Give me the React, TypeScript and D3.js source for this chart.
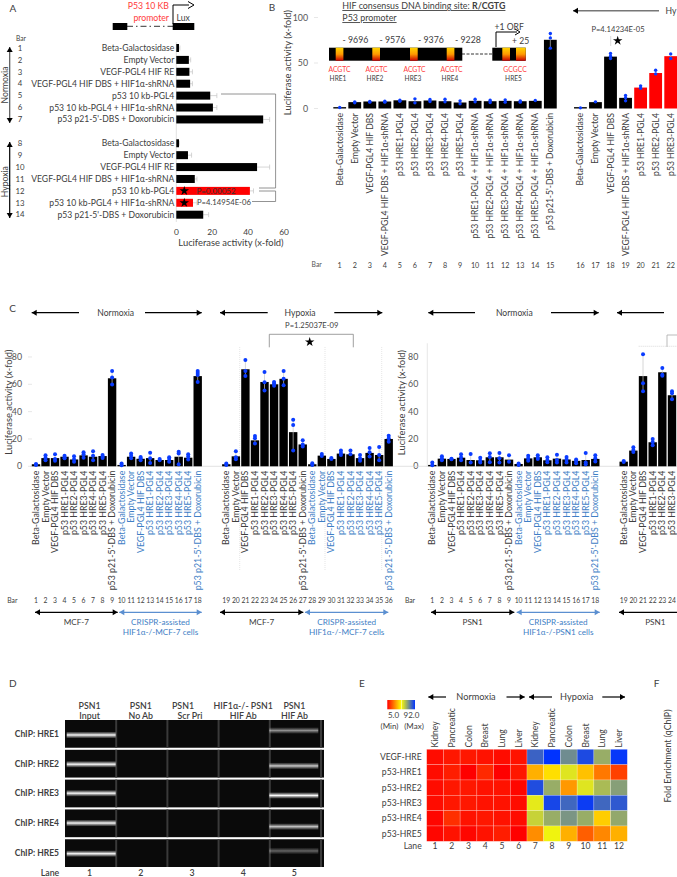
import * as d3 from "d3"

// ---- panel A
const aBars = [1, 2, 3, 4, 5, 6, 7, "gap", 8, 9, 10, 11, 12, 13, 14]
const aLabels = ["Beta-Galactosidase", "Empty Vector", "VEGF-PGL4 HIF RE", "VEGF-PGL4 HIF DBS + HIF1α-shRNA", "p53 10 kb-PGL4", "p53 10 kb-PGL4 + HIF1α-shRNA", "p53 p21-5'-DBS + Doxorubicin"]
const aValues = [1.5, 7, 7.3, 7.7, 18.9, 20.4, 48.4, 1.5, 6.5, 45, 10.3, 41, 9.3, 15]
const aErrors = [2, 8, 9, 9, 22.6, 22.6, 52, 1.7, 8.5, 52, 11.5, 43, 11.5, 18]
const aRedBars = [12, 13]

// ---- panel B
const bBars = [...d3.range(1, 16), "gap", ...d3.range(16, 23)]
const bLabels = ["Beta-Galactosidase", "Empty Vector", "VEGF-PGL4 HIF DBS", "VEGF-PGL4 HIF DBS + HIF1α-shRNA", "p53 HRE1-PGL4", "p53 HRE2-PGL4", "p53 HRE3-PGL4", "p53 HRE4-PGL4", "p53 HRE5-PGL4", "p53 HRE1-PGL4 + HIF1α-shRNA", "p53 HRE2-PGL4 + HIF1α-shRNA", "p53 HRE3-PGL4 + HIF1α-shRNA", "p53 HRE4-PGL4 + HIF1α-shRNA", "p53 HRE5-PGL4 + HIF1α-shRNA", "p53 p21-5'-DBS + Doxorubicin", "Beta-Galactosidase", "Empty Vector", "VEGF-PGL4 HIF DBS", "VEGF-PGL4 HIF DBS + HIF1α-shRNA", "p53 HRE1-PGL4", "p53 HRE2-PGL4", "p53 HRE3-PGL4"]
const bValues = [1.5, 7, 7.7, 7.7, 9, 8, 8.8, 8, 6.6, 8.4, 8, 8.4, 8, 8.4, 75.5, 1.5, 7, 57, 11.7, 23, 39, 57.5]
const bPoints = [[1.1], [7.3, 6.2], [7.7, 7], [8, 7], [9.2, 8], [10.6, 6.2], [9.9, 7.7], [10.3, 7.3], [8.4, 5.1], [10.3, 7.3], [9.2, 6.6], [9.5, 7], [8.4, 7], [8.8], [82.4, 77.6, 66.3], [0.7], [7.3], [60.4, 57.5, 54.9], [14.3, 11.7, 8.4], [24.9, 22.3], [42, 38], [60, 55]]
const bRedBars = [20, 21, 22]
const hreNames = ["HRE1", "HRE2", "HRE3", "HRE4", "HRE5"]
const hreSites = ["ACGTC", "ACGTC", "ACGTC", "ACGTC", "GCGCC"]
const hrePositions = ["- 9696", "- 9576", "- 9376", "- 9228"]

// ---- panel C
const cLabels = ["Beta-Galactosidase", "Empty Vector", "VEGF-PGL4 HIF DBS", "p53 HRE1-PGL4", "p53 HRE2-PGL4", "p53 HRE3-PGL4", "p53 HRE4-PGL4", "p53 HRE5-PGL4", "p53 p21-5'-DBS + Doxorubicin"]
const mcfNormValues = [1.5, 6, 6, 7, 5, 8, 7, 7.5, 64.4, 1, 7, 5.5, 6, 4.6, 4.6, 7, 6.3, 66]
const mcfNormPoints = [[1.7, 1], [8, 6.3, 4.4], [8.8, 5.4, 4.1], [7.8, 6.3, 5.9], [7.3, 5.1, 3.4], [10.2, 8.8, 6.3], [11, 7.8, 4.4], [8.3, 7.1, 6.1], [69.8, 64.9, 59.8], [2, 0.7], [9.3, 7.8, 5.9], [6.8, 5.9, 4.4], [10, 5.9, 2.4], [5.4, 4.4], [6.6, 5.4, 3.4], [10.7, 9.3, 1.5], [8.8, 7.1, 4.9], [69.8, 68.3, 66.8, 61.7]]
const mcfHypoValues = [1.5, 7.3, 71, 19, 61.7, 60, 64, 25, 16, 1.5, 7.8, 5.4, 9.3, 8.8, 6, 9.8, 8.3, 20]
const mcfHypoPoints = [[2, 1], [11, 6.6, 5.1], [77.8, 69.8, 66.1], [22.2, 20.5, 16.6], [69, 61.5, 55.4], [61.7, 60.5, 59], [69.8, 64, 59.3], [34, 30.2, 11.5], [19, 16, 14.4], [2.2, 1], [9, 7.6], [6.1, 5.4], [11.5, 9.8, 8.3], [11.5, 8.8], [8.3, 5.9, 4.1], [13.4, 10.2, 7.1], [14.1, 8.3, 4.4], [22.4, 20.5, 18]]
const psnNormValues = [1, 5.6, 5.4, 6.3, 4.6, 4.4, 6.6, 6.6, 4.9, 1.7, 5.8, 6.6, 4.4, 5.6, 5, 4, 4.6, 5.4]
const psnNormPoints = [[2.7, 0.7], [7.3, 5.9, 4.4], [5.6, 5.1], [8.8, 6.6, 4.4], [9, 2.7], [6.3, 4.1, 2.7], [9.5, 6.8, 2.9], [9.8, 5.9, 2.7], [8, 3.4], [2, 1], [7.8, 5.9, 4.1], [8, 6.3, 5.4], [6.6, 4.6, 2.9], [8.5, 4.6, 2.7], [6.8, 4.9, 2.7], [4.9, 3.9, 2.2], [9.8, 2.7, 1.5], [8, 5.9, 3.6]]
const psnHypoValues = [3.4, 11.5, 66, 17.6, 68.8, 52]
const psnHypoPoints = [[3.9, 3.2], [14, 12, 10.5], [82, 60.7, 55], [20, 17.8, 15.4], [72, 67, 66.3], [55, 53.4, 49]]

// ---- panel D
const gelLanes = ["1", "2", "3", "4", "5"]
const gelRows = ["ChIP: HRE1", "ChIP: HRE2", "ChIP: HRE3", "ChIP: HRE4", "ChIP: HRE5"]
const gelHeaders = [["PSN1", "Input"], ["PSN1", "No Ab"], ["PSN1", "Scr Pri"], ["HIF1α-/- PSN1", "HIF Ab"], ["PSN1", "HIF Ab"]]
const inputBandMigration = [0.54, 0.52, 0.49, 0.49, 0.52]
const hifBandMigration = [0.38, 0.58, 0.57, 0.62, 0.42]
const hifBandIntensity = [0.55, 0.8, 1, 0.78, 0.38]

// ---- panel E
const tissues = ["Kidney", "Pancreatic", "Colon", "Breast", "Lung", "Liver"]
const heatRows = ["VEGF-HRE", "p53-HRE1", "p53-HRE2", "p53-HRE3", "p53-HRE4", "p53-HRE5"]
const heatValues = [
    [7, 9, 9, 8, 7, 8, 82, 92, 73, 87, 66, 91],
    [7, 10, 5, 12, 5, 9, 35, 43, 54, 38, 25.5, 16],
    [7, 9, 9, 8, 8, 6, 86.5, 66, 31, 54, 63, 69],
    [7, 9, 9, 8, 8, 7, 53, 88, 81, 90, 81, 84],
    [6, 13, 8, 9, 8, 7, 58, 66, 71, 66, 40, 67],
    [6, 8, 6, 8, 10, 5, 29, 51, 35, 21, 28, 35],
]

const INK = "#404040"
const BLUE_TEXT = "#3f7fc6"
const BLUE_DOT = "#0a3cff"
const RED = "#ff0000"

const star = d3.symbol().type(d3.symbolStar)

function T({ x, y, children, size = 8.4, fill = INK, anchor = "middle", weight = 400, rotate = 0, decoration }: any) {
    return (
        <text
            transform={`translate(${x},${y}) rotate(${rotate})`}
            dy="0.35em"
            fontSize={size}
            fill={fill}
            textAnchor={anchor}
            fontWeight={weight}
            textDecoration={decoration}
        >
            {children}
        </text>
    )
}

// straight arrow with a filled head at one or both ends
function Arrow({ x1, y1, x2, y2, color = "#000", head = "#000", both = false, sw = 1.2, size = 5 }: any) {
    const a = Math.atan2(y2 - y1, x2 - x1)
    const tri = (x: number, y: number, t: number) => {
        const p = [
            [x, y],
            [x - size * Math.cos(t) + (size * 0.6) * Math.sin(t), y - size * Math.sin(t) - (size * 0.6) * Math.cos(t)],
            [x - size * Math.cos(t) - (size * 0.6) * Math.sin(t), y - size * Math.sin(t) + (size * 0.6) * Math.cos(t)],
        ]
        return <polygon points={p.map((d) => d.join(",")).join(" ")} fill={head} />
    }
    return (
        <g>
            <line x1={x1} y1={y1} x2={x2} y2={y2} stroke={color} strokeWidth={sw} />
            {tri(x2, y2, a)}
            {both && tri(x1, y1, a + Math.PI)}
        </g>
    )
}

function PanelA() {
    const x = d3.scaleLinear().domain([0, 60]).range([176.3, 284])
    const y = d3.scalePoint<any>().domain(aBars).range([48, 214.7])
    const nums = aBars.filter((d) => d !== "gap") as number[]
    return (
        <g>
            <T x={13} y={8} size={10}>A</T>
            <T x={169} y={6} fill="#ff3b3b" anchor="end" size={8.7}>P53 10 KB</T>
            <T x={169} y={18} fill="#ff3b3b" anchor="end" size={8.7}>promoter</T>
            <T x={176.5} y={18} size={8.6} anchor="start">Lux</T>
            <rect x={112.7} y={23} width={14.6} height={7} fill="#000" />
            <rect x={172.7} y={23} width={21.6} height={7} fill="#000" />
            <line x1={127} y1={26.3} x2={173} y2={26.3} stroke="#000" strokeWidth={0.8} strokeDasharray="6 3 1.5 3" />
            <path d="M173,24V5H189" fill="none" stroke="#000" strokeWidth={1} />
            <path d="M188,1.5L194,5L188,8.5" fill="none" stroke="#000" strokeWidth={1} />
            <T x={21} y={39} size={6.6}>Bar</T>
            <line x1={x(0)} y1={42} x2={x(0)} y2={222} stroke="#d9d9d9" strokeWidth={0.8} />
            {nums.map((n, i) => {
                const cy = y(n)!
                const label = aLabels[i % 7]
                return (
                    <g key={n}>
                        <T x={20} y={cy} size={7.8}>{n}</T>
                        <T x={174.3} y={cy} anchor="end" size={8.6}>{label}</T>
                        <line x1={x(aValues[i])} x2={x(aErrors[i])} y1={cy} y2={cy} stroke="#c4c4c4" strokeWidth={0.7} />
                        <line x1={x(aErrors[i])} x2={x(aErrors[i])} y1={cy - 2.5} y2={cy + 2.5} stroke="#c4c4c4" strokeWidth={0.7} />
                        <rect
                            x={x(0)}
                            y={cy - 4}
                            width={x(aValues[i]) - x(0)}
                            height={8}
                            fill={aRedBars.includes(n) ? RED : "#000"}
                        />
                    </g>
                )
            })}
            {x.ticks(3).map((t) => (
                <T key={t} x={x(t)} y={232} size={8.4}>{t}</T>
            ))}
            <T x={231} y={243} size={9.4}>Luciferase activity (x-fold)</T>
            <T x={4.5} y={85} rotate={-90} size={8.6}>Normoxia</T>
            <T x={4.5} y={181.7} rotate={-90} size={8.6}>Hypoxia</T>
            <Arrow x1={9.7} y1={47} x2={9.7} y2={123} both color="#555" />
            <Arrow x1={9.7} y1={142} x2={9.7} y2={218} both />
            <path transform={`translate(184.3,${y(12)})`} d={star.size(28)()!} fill="#000" />
            <path transform={`translate(184.3,${y(13)})`} d={star.size(28)()!} fill="#000" />
            <T x={216} y={y(12)} size={8} fill="#333">P=0.00052</T>
            <T x={197} y={y(13)} size={7.7} anchor="start">P=4.14954E-06</T>
            {/* significance brackets running on to the right of the axis */}
            <path d="M221,94H275.6V188H259" fill="none" stroke="#777" strokeWidth={0.8} />
            <path d="M259,191H275.6V201.5H252" fill="none" stroke="#777" strokeWidth={0.8} />
        </g>
    )
}

function PanelB() {
    const x = d3.scalePoint<any>().domain(bBars).range([339.7, 670.7])
    const y = d3.scaleLinear().domain([0, 100]).range([108.5, 17.5])
    const nums = bBars.filter((d) => d !== "gap") as number[]
    const boxCentres = [339.5, 376.5, 414.5, 451.5, 515]
    return (
        <g>
            <T x={272} y={7} size={10}>B</T>
            <text x={342.3} y={6} dy="0.35em" fontSize={8.9} fill={INK} textDecoration="underline">
                HIF consensus DNA binding site: <tspan fontWeight={700}>R/CGTG</tspan>
            </text>
            <T x={342.3} y={18} size={8.9} anchor="start" decoration="underline">P53 promoter</T>
            <defs>
                <linearGradient id="hreGrad" x1="0" x2="0" y1="0" y2="1">
                    <stop offset="0" stopColor="#ffd400" />
                    <stop offset="0.5" stopColor="#ff9a00" />
                    <stop offset="1" stopColor="#c80000" />
                </linearGradient>
            </defs>
            <rect x={329} y={47.7} width={133.3} height={13} fill="#000" />
            <rect x={492.3} y={47.7} width={33.4} height={13} fill="#000" />
            <line x1={462} y1={54} x2={492} y2={54} stroke="#000" strokeWidth={0.8} strokeDasharray="3 1.5" />
            {[335.7, 372.3, 410, 446.7, 502.3, 516].map((bx, i) => (
                <rect key={i} x={bx} y={47.7} width={i === 5 ? 9.7 : 7.7} height={13} fill="url(#hreGrad)" />
            ))}
            {hreNames.map((n, i) => (
                <g key={n}>
                    <T x={boxCentres[i]} y={69.3} fill="#ff4040" size={6.8}>{hreSites[i]}</T>
                    <T x={boxCentres[i] - 1.5} y={79} size={6.6}>{n}</T>
                </g>
            ))}
            {hrePositions.map((p, i) => (
                <T key={p} x={[342.5, 379.5, 418, 455][i]} y={39.5} size={8.8} anchor="start">{p}</T>
            ))}
            <T x={494.5} y={26.7} size={8.6} anchor="start">+1 ORF</T>
            <path d="M496,47V32H517" fill="none" stroke="#000" strokeWidth={1} />
            <path d="M515,29L520,32L515,35" fill="none" stroke="#000" strokeWidth={1} />
            <T x={512} y={40.7} size={8.6} anchor="start">+ 25</T>

            <T x={287.7} y={62.5} rotate={-90} size={9.4}>Luciferase activity (x-fold)</T>
            {y.ticks(2).map((t) => (
                <g key={t}>
                    <T x={308} y={y(t)} anchor="end" size={8.8} fill="#555">{t}</T>
                    <line x1={314} x2={318} y1={y(t)} y2={y(t)} stroke="#ddd" strokeWidth={0.7} />
                </g>
            ))}
            <T x={316.7} y={265} size={6.8} fill="#555">Bar</T>
            {nums.map((n, i) => {
                const cx = x(n)!
                return (
                    <g key={n}>
                        <rect
                            x={cx - 6.4}
                            y={y(bValues[i])}
                            width={12.8}
                            height={y(0) - y(bValues[i])}
                            fill={bRedBars.includes(n) ? RED : "#000"}
                        />
                        <line x1={cx} x2={cx} y1={y(d3.max(bPoints[i])!)} y2={y(d3.min(bPoints[i])!)} stroke="#bbb" strokeWidth={0.7} />
                        {bPoints[i].map((p, j) => (
                            <circle key={j} cx={cx} cy={y(p)} r={1.7} fill={BLUE_DOT} />
                        ))}
                        <T x={cx} y={113} rotate={-90} anchor="end" size={8.6}>{bLabels[i]}</T>
                        <T x={cx} y={265} size={7.2}>{n}</T>
                    </g>
                )
            })}
            <Arrow x1={659} y1={10.7} x2={573} y2={10.7} color="#777" sw={1.5} />
            <T x={665.5} y={10.7} anchor="start" size={8.6}>Hy</T>
            <T x={618} y={29} size={7.6}>P=4.14234E-05</T>
            <line x1={610.7} x2={610.7} y1={36} y2={46} stroke="#ccc" strokeWidth={0.7} />
            <path transform="translate(617.7,40.7)" d={star.size(28)()!} fill="#000" />
        </g>
    )
}

function BarGroup({ first, values, points, x, y, labelTop, blueFrom }: any) {
    return (
        <g>
            {values.map((v: number, i: number) => {
                const n = first + i
                const cx = x(n)
                const label = cLabels[i % 9]
                return (
                    <g key={n}>
                        <rect x={cx - 4.2} y={y(v)} width={8.4} height={y(0) - y(v)} fill="#000" />
                        <line x1={cx} x2={cx} y1={y(d3.max(points[i] as number[])!)} y2={y(d3.min(points[i] as number[])!)} stroke="#c4c4c4" strokeWidth={0.7} />
                        {points[i].map((p: number, j: number) => (
                            <circle key={j} cx={cx} cy={y(p)} r={2} fill={BLUE_DOT} />
                        ))}
                        <T x={cx} y={labelTop} rotate={-90} anchor="end" size={8.8} fill={n >= blueFrom ? BLUE_TEXT : INK}>{label}</T>
                        <T x={cx} y={600.3} size={6.8}>{n}</T>
                    </g>
                )
            })}
        </g>
    )
}

function CaptionRow({ x1, x2, cell, split }: any) {
    return (
        <g>
            <Arrow x1={x1} y1={612.3} x2={x2} y2={612.3} both head={split ? "#5b8fd0" : "#000"} color={split ? "#5b8fd0" : "#000"} />
            {split ? (
                <g>
                    <T x={(x1 + x2) / 2} y={622.3} size={8.2} fill={BLUE_TEXT}>CRISPR-assisted</T>
                    <T x={(x1 + x2) / 2} y={632.3} size={8.2} fill={BLUE_TEXT}>{cell}</T>
                </g>
            ) : (
                <T x={(x1 + x2) / 2} y={622.3} size={8.2}>{cell}</T>
            )}
        </g>
    )
}

function PanelC() {
    const y = d3.scaleLinear().domain([0, 90]).range([466.3, 343.3])
    const x1 = d3.scaleLinear().domain([1, 18]).range([36, 197.7])
    const x2 = d3.scaleLinear().domain([19, 36]).range([226.3, 388.7])
    const x3 = d3.scaleLinear().domain([1, 18]).range([432.3, 595.3])
    const x4 = d3.scaleLinear().domain([19, 24]).range([623.7, 672])
    const ticks = y.ticks(3)
    return (
        <g>
            <T x={12.7} y={308} size={10}>C</T>
            {/* condition arrows */}
            <Arrow x1={79} y1={312.7} x2={31.7} y2={312.7} />
            <T x={115.7} y={312.7} size={8.6}>Normoxia</T>
            <Arrow x1={145} y1={312.7} x2={201.7} y2={312.7} />
            <Arrow x1={267.7} y1={312.7} x2={220} y2={312.7} />
            <T x={300} y={312.7} size={8.6}>Hypoxia</T>
            <Arrow x1={334.3} y1={312.7} x2={382.3} y2={312.7} />
            <Arrow x1={475} y1={312.7} x2={428.3} y2={312.7} />
            <T x={514.3} y={312.7} size={8.6}>Normoxia</T>
            <Arrow x1={551} y1={312.7} x2={598.7} y2={312.7} />
            <Arrow x1={664} y1={312.7} x2={617} y2={312.7} />
            {/* y axes */}
            <T x={8.3} y={402} rotate={-90} size={9.4}>Luciferase activity (x-fold)</T>
            <T x={401.7} y={402.5} rotate={-90} size={9.4}>Luciferase activity (x-fold)</T>
            {ticks.map((t) => (
                <g key={t}>
                    <T x={22} y={y(t)} anchor="end" size={8.8} fill="#555">{t}</T>
                    <line x1={28} x2={32} y1={y(t)} y2={y(t)} stroke="#ddd" strokeWidth={0.7} />
                    <T x={418.3} y={y(t)} anchor="end" size={8.8} fill="#555">{t}</T>
                </g>
            ))}
            <line x1={427.3} x2={427.3} y1={y(90)} y2={y(0)} stroke="#ddd" strokeWidth={0.7} />
            <line x1={30} x2={677} y1={y(0)} y2={y(0)} stroke="#d5d5d5" strokeWidth={0.7} />
            {/* dotted dividers */}
            {[239.7, 325, 381.7].map((d) => (
                <line key={d} x1={d} x2={d} y1={347} y2={570} stroke="#d5d5d5" strokeWidth={0.6} strokeDasharray="1 1" />
            ))}
            <BarGroup first={1} values={mcfNormValues} points={mcfNormPoints} x={x1} y={y} labelTop={470.7} blueFrom={10} />
            <BarGroup first={19} values={mcfHypoValues} points={mcfHypoPoints} x={x2} y={y} labelTop={470.7} blueFrom={28} />
            <BarGroup first={1} values={psnNormValues} points={psnNormPoints} x={x3} y={y} labelTop={470.7} blueFrom={10} />
            <BarGroup first={19} values={psnHypoValues} points={psnHypoPoints} x={x4} y={y} labelTop={470.7} blueFrom={100} />
            <T x={12.3} y={600.3} size={6.8}>Bar</T>
            <T x={410} y={600.3} size={6.8}>Bar</T>
            {/* significance */}
            <T x={311.7} y={325} size={7.6}>P=1.25037E-09</T>
            <path d="M269.3,347.3V334.3H353.3V347.3" fill="none" stroke="#888" strokeWidth={0.8} />
            <path transform="translate(309.7,342)" d={star.size(28)()!} fill="#000" />
            <path d="M667,347V335H677" fill="none" stroke="#aaa" strokeWidth={0.8} />
            <line x1={638.7} x2={677} y1={346.3} y2={346.3} stroke="#ccc" strokeWidth={0.7} strokeDasharray="1 1" />
            {/* cell line captions */}
            <CaptionRow x1={35} x2={117.7} cell="MCF-7" />
            <CaptionRow x1={119.3} x2={201.7} cell="HIF1α-/-MCF-7 cells" split />
            <CaptionRow x1={220} x2={303.3} cell="MCF-7" />
            <CaptionRow x1={305} x2={388.3} cell="HIF1α-/-MCF-7 cells" split />
            <CaptionRow x1={431} x2={514.3} cell="PSN1" />
            <CaptionRow x1={516.7} x2={599.7} cell="HIF1α-/-PSN1 cells" split />
            <Arrow x1={700} y1={612.3} x2={619} y2={612.3} />
            <T x={655.3} y={622.3} size={8.2}>PSN1</T>
        </g>
    )
}

function PanelD() {
    const lane = d3.scaleBand().domain(gelLanes).range([65, 320]).paddingInner(0.02)
    const row = d3.scaleBand().domain(gelRows).range([720, 867]).paddingInner(0.07)
    const topShift = [0, 0, -9, 0, 0]
    const bottomShift = [0, 0, -2, 0, 0]
    return (
        <g>
            <T x={12.7} y={683} size={10}>D</T>
            <defs>
                <linearGradient id="band" x1="0" x2="0" y1="0" y2="1">
                    <stop offset="0" stopColor="#777" stopOpacity={0.4} />
                    <stop offset="0.5" stopColor="#fff" />
                    <stop offset="1" stopColor="#777" stopOpacity={0.4} />
                </linearGradient>
            </defs>
            {gelHeaders.map((h, i) => {
                const mid = lane(gelLanes[i])! + lane.bandwidth() / 2 - 0.5
                return (
                    <g key={i}>
                        <T x={mid + topShift[i]} y={706} size={8.8} weight={600}>{h[0]}</T>
                        <T x={mid + bottomShift[i]} y={716} size={8.8} weight={600}>{h[1]}</T>
                        <T x={mid} y={873} size={8.8} weight={600}>{gelLanes[i]}</T>
                    </g>
                )
            })}
            <T x={50} y={873} size={8.8} weight={600}>Lane</T>
            {gelRows.map((r, ri) => {
                const top = row(r)!
                const h = row.bandwidth()
                return (
                    <g key={r}>
                        <T x={59} y={top + h / 2} anchor="end" size={8.5} weight={700}>{r}</T>
                        <rect x={65} y={top} width={259} height={h} fill="#0a0a0a" />
                        {gelLanes.map((l) => (
                            <rect key={l} x={lane(l)! + lane.bandwidth()} y={top} width={2} height={h} fill="#3a3a3a" />
                        ))}
                        <rect x={66.7} y={top + h * inputBandMigration[ri] - 3} width={49} height={6} fill="url(#band)" />
                        <rect
                            x={269.3}
                            y={top + h * hifBandMigration[ri] - 3}
                            width={49}
                            height={6}
                            fill="url(#band)"
                            opacity={hifBandIntensity[ri]}
                        />
                    </g>
                )
            })}
        </g>
    )
}

function PanelE() {
    const color = d3.scaleLinear<string>().domain([5, 48.5, 92]).range(["#ff0000", "#ffff00", "#0033ff"])
    const x = d3.scaleBand<number>().domain(d3.range(12)).range([426.7, 627.3])
    const y = d3.scaleBand().domain(heatRows).range([749.3, 841.3])
    return (
        <g>
            <T x={362} y={683} size={10}>E</T>
            <T x={656.7} y={683} size={10}>F</T>
            <T x={668} y={756} rotate={-90} size={8.8}>Fold Enrichment (qChIP)</T>
            <Arrow x1={446} y1={697} x2={428.3} y2={697} />
            <T x={476} y={697} size={9.2}>Normoxia</T>
            <Arrow x1={506.5} y1={697} x2={524.7} y2={697} />
            <Arrow x1={552} y1={697} x2={529} y2={697} />
            <T x={576.7} y={697} size={9.2}>Hypoxia</T>
            <Arrow x1={602.3} y1={697} x2={625} y2={697} />
            <defs>
                <linearGradient id="heatLegend">
                    {color.domain().map((d, i) => (
                        <stop key={d} offset={i / 2} stopColor={color(d)} />
                    ))}
                </linearGradient>
            </defs>
            <rect x={387.3} y={700} width={27.7} height={9.3} fill="url(#heatLegend)" />
            <line x1={401.5} x2={401.5} y1={700} y2={711} stroke="#fff" strokeWidth={0.5} />
            <T x={393.5} y={715} size={8}>5.0</T>
            <T x={411.5} y={715} size={8}>92.0</T>
            <T x={389.5} y={725.7} size={8}>(Min)</T>
            <T x={414} y={725.7} size={8}>(Max)</T>
            {d3.range(12).map((c) => (
                <g key={c}>
                    <T x={x(c)! + x.bandwidth() / 2} y={747.5} rotate={-90} anchor="start" size={8.6}>{tissues[c % 6]}</T>
                    <T x={x(c)! + x.bandwidth() / 2} y={846} size={8.6}>{c + 1}</T>
                </g>
            ))}
            <T x={421.7} y={846} anchor="end" size={8.6}>Lane</T>
            {heatRows.map((r, ri) => (
                <g key={r}>
                    <T x={421.7} y={y(r)! + y.bandwidth() / 2} anchor="end" size={8.6}>{r}</T>
                    {heatValues[ri].map((v, c) => (
                        <rect
                            key={c}
                            x={x(c)}
                            y={y(r)}
                            width={x.bandwidth()}
                            height={y.bandwidth()}
                            fill={color(v)}
                            stroke="#fff"
                            strokeOpacity={0.35}
                            strokeWidth={0.6}
                        />
                    ))}
                </g>
            ))}
        </g>
    )
}

export default function App() {
    return (
        <svg
            width={677}
            height={877}
            viewBox="0 0 677 877"
            style={{ position: "absolute", left: 0, top: 0, background: "#fff", fontFamily: "Lato, 'Open Sans', sans-serif" }}
        >
            <PanelC />
            <PanelA />
            <PanelB />
            <PanelD />
            <PanelE />
        </svg>
    )
}
